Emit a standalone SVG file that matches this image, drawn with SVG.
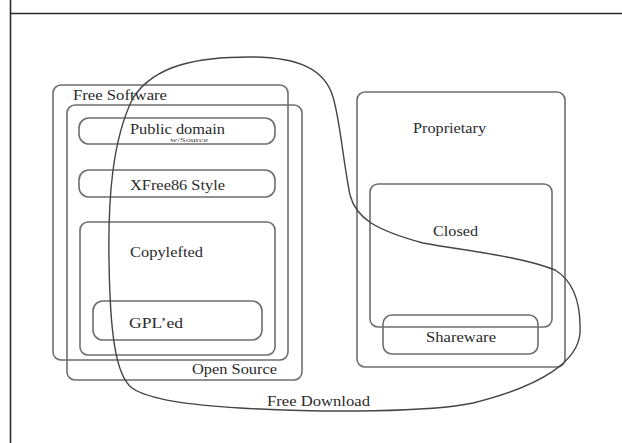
<svg xmlns="http://www.w3.org/2000/svg" width="622" height="443" viewBox="0 0 622 443">
  <style>
    .box { fill: none; stroke: #6e6e6e; stroke-width: 1.6; }
    .lbl { font-family: "Liberation Serif", "Times New Roman", serif; font-size: 15px; fill: #2a2a2a; }
    .small { font-family: "Liberation Serif", "Times New Roman", serif; font-size: 5.5px; fill: #444; }
    .loop { fill: none; stroke: #444; stroke-width: 1.4; }
    .frame { stroke: #2a2a2a; stroke-width: 1.6; }
  </style>
  <rect width="622" height="443" fill="#ffffff"/>

  <!-- page frame -->
  <g id="frame">
    <line class="frame" x1="10.5" y1="0" x2="10.5" y2="443" stroke="#555"/>
    <line class="frame" x1="10" y1="13.5" x2="622" y2="13.5"/>
  </g>

  <g id="free-software">
    <rect class="box" x="53" y="85" width="235" height="275" rx="8"/>
    <text class="lbl" x="73" y="100" textLength="94" lengthAdjust="spacingAndGlyphs">Free Software</text>
  </g>

  <g id="open-source">
    <rect class="box" x="67" y="105" width="235" height="275" rx="8"/>
    <text class="lbl" x="192" y="374" textLength="85" lengthAdjust="spacingAndGlyphs">Open Source</text>
  </g>

  <g id="public-domain">
    <rect class="box" x="79" y="118" width="196" height="26" rx="10"/>
    <text class="lbl" x="130" y="134" textLength="95" lengthAdjust="spacingAndGlyphs">Public domain</text>
    <text class="small" x="170" y="141.5" textLength="38" lengthAdjust="spacingAndGlyphs">w/Source</text>
  </g>

  <g id="xfree86-style">
    <rect class="box" x="79" y="170" width="196" height="27" rx="10"/>
    <text class="lbl" x="130" y="190" textLength="95" lengthAdjust="spacingAndGlyphs">XFree86 Style</text>
  </g>

  <g id="copylefted">
    <rect class="box" x="80" y="222" width="195" height="133" rx="8"/>
    <text class="lbl" x="130" y="257" textLength="73" lengthAdjust="spacingAndGlyphs">Copylefted</text>
  </g>

  <g id="gpled">
    <rect class="box" x="93" y="301" width="169" height="39" rx="10"/>
    <text class="lbl" x="129" y="328" textLength="54" lengthAdjust="spacingAndGlyphs">GPL’ed</text>
  </g>

  <g id="proprietary">
    <rect class="box" x="357" y="92" width="208" height="275" rx="8"/>
    <text class="lbl" x="413" y="133" textLength="73" lengthAdjust="spacingAndGlyphs">Proprietary</text>
  </g>

  <g id="closed">
    <rect class="box" x="370" y="184" width="182" height="143" rx="8"/>
    <text class="lbl" x="433" y="236" textLength="45" lengthAdjust="spacingAndGlyphs">Closed</text>
  </g>

  <g id="shareware">
    <rect class="box" x="383" y="315" width="155" height="39" rx="9"/>
    <text class="lbl" x="426" y="342" textLength="70" lengthAdjust="spacingAndGlyphs">Shareware</text>
  </g>

  <!-- free download boundary loop -->
  <g id="connectors">
    <path class="loop" d="M 250 57
      C 300 57, 325 70, 333 97
      C 340 120, 343 160, 350 195
      C 356 218, 375 230, 423 243
      C 460 250, 520 256, 555 270
      C 575 282, 581 305, 580 333
      C 578 360, 545 385, 473 403
      C 430 412, 330 413, 240 408
      C 190 405, 150 400, 132 388
      C 115 375, 110 330, 109 260
      C 108 200, 112 140, 133 98
      C 155 64, 200 57, 250 57 Z"/>
    <text class="lbl" x="267" y="406" textLength="103" lengthAdjust="spacingAndGlyphs">Free Download</text>
  </g>
</svg>
